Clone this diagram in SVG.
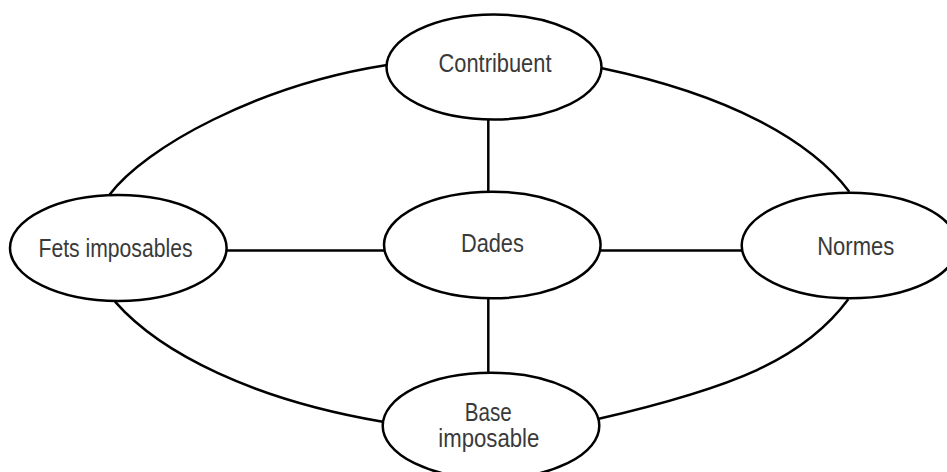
<svg xmlns="http://www.w3.org/2000/svg" width="947" height="472" viewBox="0 0 947 472">
<style>
.node{fill:#fff;stroke:#000;stroke-width:2.5}
.conn{fill:none;stroke:#000;stroke-width:2.5}
.lbl{font-family:"Liberation Sans",Arial,sans-serif;font-size:25px;fill:#3a3a3a;text-anchor:middle}
</style>
<rect width="947" height="472" fill="#fff"/>
<g id="connectors">
<path class="conn" d="M387,65 C258.6,85 145.3,147 109.3,195"/>
<path class="conn" d="M602,68.3 C729,95 810,140 849.3,191.7"/>
<path class="conn" d="M115,301.7 C161,354 254.5,400 382.7,421.7"/>
<path class="conn" d="M848.3,299.3 C803.7,359.6 733.1,387.7 596.7,419.3"/>
<line class="conn" x1="488.3" y1="118" x2="488.3" y2="193"/>
<line class="conn" x1="488.3" y1="297" x2="488.3" y2="374"/>
<line class="conn" x1="225" y1="250.5" x2="386" y2="250.5"/>
<line class="conn" x1="599" y1="250.5" x2="743" y2="250.5"/>
</g>
<g id="contribuent">
<ellipse class="node" cx="494" cy="67" rx="107.5" ry="52.5"/>
<text class="lbl" x="495" y="72" textLength="113" lengthAdjust="spacingAndGlyphs">Contribuent</text>
</g>
<g id="fets">
<ellipse class="node" cx="118.3" cy="248" rx="108.3" ry="53"/>
<text class="lbl" x="115.5" y="257.3" textLength="154" lengthAdjust="spacingAndGlyphs">Fets imposables</text>
</g>
<g id="dades">
<ellipse class="node" cx="492.3" cy="245" rx="108.3" ry="53.3"/>
<text class="lbl" x="492.4" y="251.7" textLength="63" lengthAdjust="spacingAndGlyphs">Dades</text>
</g>
<g id="normes">
<ellipse class="node" cx="849.7" cy="245.5" rx="108" ry="52.8"/>
<text class="lbl" x="855.7" y="255" textLength="77" lengthAdjust="spacingAndGlyphs">Normes</text>
</g>
<g id="base">
<ellipse class="node" cx="491" cy="425.7" rx="108.3" ry="53"/>
<text class="lbl" x="488.3" y="420.7" textLength="47" lengthAdjust="spacingAndGlyphs">Base</text>
<text class="lbl" x="488.8" y="446.7" textLength="101" lengthAdjust="spacingAndGlyphs">imposable</text>
</g>
</svg>
